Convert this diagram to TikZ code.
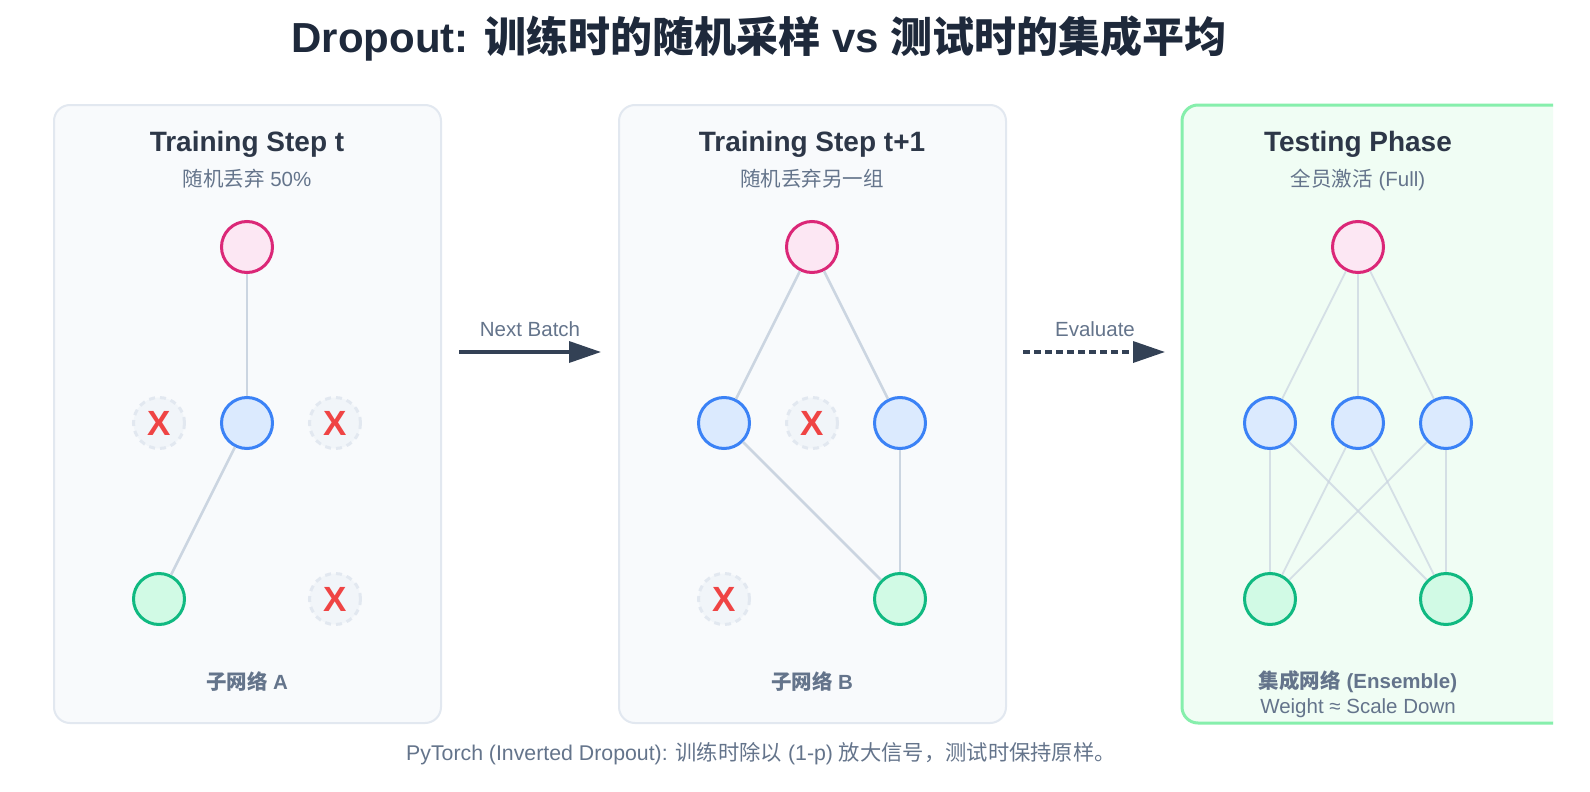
\documentclass[tikz,border=0pt]{standalone}
\usepackage{fontspec}
\setmainfont{Liberation Sans}
\newfontfamily\cjk{Noto Sans CJK SC}
\usetikzlibrary{arrows.meta}
\definecolor{titlecol}{HTML}{1E293B}
\definecolor{headcol}{HTML}{2D3748}
\definecolor{subcol}{HTML}{64748B}
\definecolor{panelfill}{HTML}{F8FAFC}
\definecolor{panelborder}{HTML}{E2E8F0}
\definecolor{testfill}{HTML}{F0FDF4}
\definecolor{testborder}{HTML}{86EFAC}
\definecolor{pinkS}{HTML}{DB2777}
\definecolor{pinkF}{HTML}{FCE7F3}
\definecolor{blueS}{HTML}{3B82F6}
\definecolor{blueF}{HTML}{DBEAFE}
\definecolor{greenS}{HTML}{10B981}
\definecolor{greenF}{HTML}{D1FAE5}
\definecolor{dropS}{HTML}{E2E8F0}
\definecolor{dropF}{HTML}{F1F5F9}
\definecolor{xred}{HTML}{EF4444}
\definecolor{edgecol}{HTML}{CBD5E1}
\definecolor{arrowcol}{HTML}{334155}
\begin{document}
\begin{tikzpicture}[x=1pt,y=-1pt,
  panelbox/.style={draw=panelborder, line width=2pt, fill=panelfill, rounded corners=16pt},
  testbox/.style={draw=testborder, line width=3pt, fill=testfill, rounded corners=16pt},
  neuron/.style={circle, minimum size=51pt, inner sep=0pt, line width=3pt},
  pinkn/.style={neuron, draw=pinkS, fill=pinkF},
  bluen/.style={neuron, draw=blueS, fill=blueF},
  greenn/.style={neuron, draw=greenS, fill=greenF},
  dropn/.style={neuron, draw=dropS, fill=dropF, dash pattern=on 6pt off 5pt, text=xred, font=\fontsize{35}{35}\selectfont\bfseries},
  edge/.style={draw=edgecol, line width=2.5pt},
  fedge/.style={draw=edgecol, draw opacity=0.75, line width=1.8pt},
  titletext/.style={font=\fontsize{42}{48}\selectfont\bfseries, text=titlecol, anchor=base},
  head/.style={font=\fontsize{28}{32}\selectfont\bfseries, text=headcol, anchor=base},
  subt/.style={font=\fontsize{20.5}{24}\selectfont, text=subcol, anchor=base},
  foottext/.style={font=\fontsize{21.3}{24}\selectfont, text=subcol, anchor=base},
  boldlab/.style={font=\fontsize{20.5}{24}\selectfont\bfseries, text=subcol, anchor=base},
  flow/.style={draw=arrowcol, line width=3.5pt, -{Triangle[length=32pt,width=21pt]}}
]
\useasboundingbox (0,0) rectangle (1590,792);
\fill[white] (0,0) rectangle (1590,792);

% title
\node[titletext] (title) at (759,53) {Dropout: {\cjk 训练时的随机采样} vs {\cjk 测试时的集成平均}};

% panels
\draw[panelbox] (54,105) rectangle (441,723);
\draw[panelbox] (619,105) rectangle (1006,723);
\begin{scope}
\clip (0,0) rectangle (1553,792);
\draw[testbox] (1182,105) rectangle (1569,723);
\end{scope}

% panel 1
\node[head] (h1) at (247,151) {Training Step t};
\node[subt] (s1) at (247,186) {{\cjk 随机丢弃} 50\%};
\node[pinkn] (p1o) at (247,247) {};
\node[dropn] (p1d1) at (159,423) {X};
\node[bluen] (p1h) at (247,423) {};
\node[dropn] (p1d2) at (335,423) {X};
\node[greenn] (p1g) at (159,599) {};
\node[dropn] (p1d3) at (335,599) {X};
\draw[edge] (p1o) -- (p1h);
\draw[edge] (p1h) -- (p1g);
\node[boldlab] (b1) at (247,689) {{\cjk 子网络} A};

% panel 2
\node[head] (h2) at (812,151) {Training Step t+1};
\node[subt] (s2) at (812,186) {\cjk 随机丢弃另一组};
\node[pinkn] (p2o) at (812,247) {};
\node[bluen] (p2h1) at (724,423) {};
\node[dropn] (p2d1) at (812,423) {X};
\node[bluen] (p2h3) at (900,423) {};
\node[dropn] (p2d2) at (724,599) {X};
\node[greenn] (p2g) at (900,599) {};
\draw[edge] (p2o) -- (p2h1);
\draw[edge] (p2o) -- (p2h3);
\draw[edge] (p2h1) -- (p2g);
\draw[edge] (p2h3) -- (p2g);
\node[boldlab] (b2) at (812,689) {{\cjk 子网络} B};

% panel 3
\node[head] (h3) at (1358,151) {Testing Phase};
\node[subt] (s3) at (1358,186) {{\cjk 全员激活} (Full)};
\node[pinkn] (p3o) at (1358,247) {};
\node[bluen] (p3h1) at (1270,423) {};
\node[bluen] (p3h2) at (1358,423) {};
\node[bluen] (p3h3) at (1446,423) {};
\node[greenn] (p3g1) at (1270,599) {};
\node[greenn] (p3g2) at (1446,599) {};
\foreach \h in {p3h1,p3h2,p3h3} {
  \draw[fedge] (p3o) -- (\h);
  \draw[fedge] (\h) -- (p3g1);
  \draw[fedge] (\h) -- (p3g2);
}
\node[boldlab] (b3) at (1358,688) {{\cjk 集成网络} (Ensemble)};
\node[subt] (w3) at (1358,713) {Weight ≈ Scale Down};

% arrows
\coordinate (a1s) at (459,352);
\coordinate (a1e) at (601,352);
\draw[flow] (a1s) -- (a1e);
\node[subt] (l1) at (530,336) {Next Batch};
\coordinate (a2s) at (1023,352);
\coordinate (a2e) at (1165,352);
\draw[flow, dash pattern=on 7pt off 4pt] (a2s) -- (a2e);
\node[subt] (l2) at (1095,336) {Evaluate};

% footer
\node[foottext] (foot) at (761,760) {PyTorch (Inverted Dropout): {\cjk 训练时除以} (1-p) {\cjk 放大信号，测试时保持原样。}};
\end{tikzpicture}
\end{document}
